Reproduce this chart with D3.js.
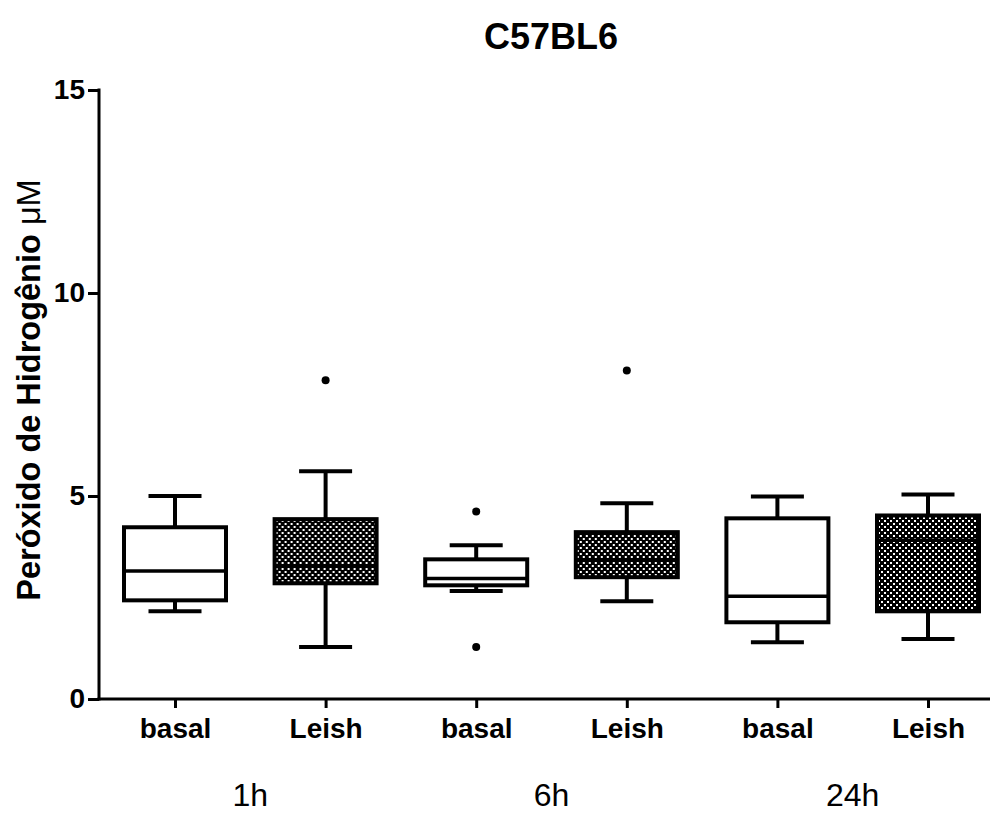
<!DOCTYPE html>
<html lang="pt">
<head>
<meta charset="UTF-8">
<title>C57BL6</title>
<style>
  body { margin: 0; background: #fff; }
  svg { display: block; font-family: "Liberation Sans", Arial, sans-serif; }
</style>
</head>
<body>
<svg id="chart" width="994" height="816"></svg>
<script src="https://d3js.org/d3.v7.min.js"></script>
<script>
// values
const groups = ["1h basal", "1h Leish", "6h basal", "6h Leish", "24h basal", "24h Leish"];
const tickLabels = ["basal", "Leish", "basal", "Leish", "basal", "Leish"];
const times = ["1h", "6h", "24h"];
const whiskerLow = [2.16, 1.28, 2.66, 2.41, 1.40, 1.48];
const q1 = [2.43, 2.85, 2.80, 3.00, 1.89, 2.16];
const median = [3.15, 3.27, 2.97, 3.42, 2.53, 3.91];
const q3 = [4.23, 4.43, 3.44, 4.11, 4.45, 4.52];
const whiskerHigh = [5.00, 5.61, 3.79, 4.82, 4.99, 5.04];
const outliers = [[], [7.85], [4.62, 1.28], [8.09], [], []];
const hatched = [false, true, false, true, false, true];
const yTicks = [0, 5, 10, 15];

const svg = d3.select("#chart");
const plotLeft = 99, plotRight = 990, plotTop = 90, plotBottom = 699;
const fontFam = "'Liberation Sans', Arial, sans-serif";

const x = d3.scalePoint().domain(groups).range([175, 928]);
const y = d3.scaleLinear().domain([0, 15]).range([plotBottom, plotTop]);
const boxW = 102, capW = 53;

// checkered fill for the Leish boxes
const pat = svg.append("defs").append("pattern")
    .attr("id", "checker")
    .attr("patternUnits", "userSpaceOnUse")
    .attr("width", 6).attr("height", 6);
pat.append("rect").attr("width", 6).attr("height", 6).attr("fill", "#000");
pat.append("rect").attr("x", 1).attr("y", 1).attr("width", 2).attr("height", 2).attr("fill", "#fff");
pat.append("rect").attr("x", 4).attr("y", 4).attr("width", 2).attr("height", 2).attr("fill", "#fff");

// axes
const yAxis = svg.append("g")
    .attr("transform", `translate(${plotLeft},0)`)
    .call(d3.axisLeft(y).tickValues(yTicks).tickSize(11).tickSizeOuter(0).tickPadding(3));
yAxis.select(".domain").attr("stroke-width", 3).attr("d", `M0,${plotBottom + 1.5}V${plotTop - 1.5}`);
yAxis.selectAll(".tick line").attr("stroke-width", 3);
yAxis.selectAll(".tick text")
    .attr("font-size", 28).attr("font-weight", "bold").attr("fill", "#000")
    .attr("font-family", fontFam);

const xAxis = svg.append("g")
    .attr("transform", `translate(0,${plotBottom})`)
    .call(d3.axisBottom(x).tickFormat((d, i) => tickLabels[i]).tickSize(9).tickSizeOuter(0).tickPadding(10));
xAxis.select(".domain").attr("stroke-width", 3).attr("d", `M${plotLeft - 1.5},0H${plotRight}`);
xAxis.selectAll(".tick line").attr("stroke-width", 3);
xAxis.selectAll(".tick text")
    .attr("font-size", 28).attr("font-weight", "bold").attr("fill", "#000")
    .attr("font-family", fontFam);

// boxes
const box = svg.append("g").selectAll("g").data(groups).join("g")
    .attr("transform", d => `translate(${x(d)},0)`);

box.append("line")
    .attr("y1", (d, i) => y(whiskerLow[i])).attr("y2", (d, i) => y(q1[i]))
    .attr("stroke", "#000").attr("stroke-width", 4);
box.append("line")
    .attr("y1", (d, i) => y(q3[i])).attr("y2", (d, i) => y(whiskerHigh[i]))
    .attr("stroke", "#000").attr("stroke-width", 4);
box.append("line")
    .attr("x1", -capW / 2).attr("x2", capW / 2)
    .attr("y1", (d, i) => y(whiskerLow[i])).attr("y2", (d, i) => y(whiskerLow[i]))
    .attr("stroke", "#000").attr("stroke-width", 4);
box.append("line")
    .attr("x1", -capW / 2).attr("x2", capW / 2)
    .attr("y1", (d, i) => y(whiskerHigh[i])).attr("y2", (d, i) => y(whiskerHigh[i]))
    .attr("stroke", "#000").attr("stroke-width", 4);
box.append("rect")
    .attr("x", -boxW / 2).attr("width", boxW)
    .attr("y", (d, i) => y(q3[i]))
    .attr("height", (d, i) => y(q1[i]) - y(q3[i]))
    .attr("fill", (d, i) => hatched[i] ? "url(#checker)" : "#fff")
    .attr("stroke", "#000").attr("stroke-width", 4);
box.append("line")
    .attr("x1", -boxW / 2).attr("x2", boxW / 2)
    .attr("y1", (d, i) => y(median[i])).attr("y2", (d, i) => y(median[i]))
    .attr("stroke", "#000").attr("stroke-width", 3.5);
box.selectAll("circle").data((d, i) => outliers[i]).join("circle")
    .attr("cy", d => y(d)).attr("r", 4).attr("fill", "#000");

// time labels under each pair
svg.append("g").selectAll("text").data(times).join("text")
    .attr("x", (d, i) => (x(groups[2 * i]) + x(groups[2 * i + 1])) / 2)
    .attr("y", 806)
    .attr("text-anchor", "middle")
    .attr("font-size", 32)
    .text(d => d);

// title
svg.append("text")
    .attr("x", 551).attr("y", 49)
    .attr("text-anchor", "middle")
    .attr("font-size", 36).attr("font-weight", "bold")
    .text("C57BL6");

// y axis title
svg.append("text")
    .attr("transform", "translate(40,390) rotate(-90)")
    .attr("text-anchor", "middle")
    .attr("font-size", 32.5).attr("font-weight", "bold")
    .text("Peróxido de Hidrogênio ")
    .append("tspan").attr("font-weight", "normal").text("μM");
</script>
</body>
</html>
